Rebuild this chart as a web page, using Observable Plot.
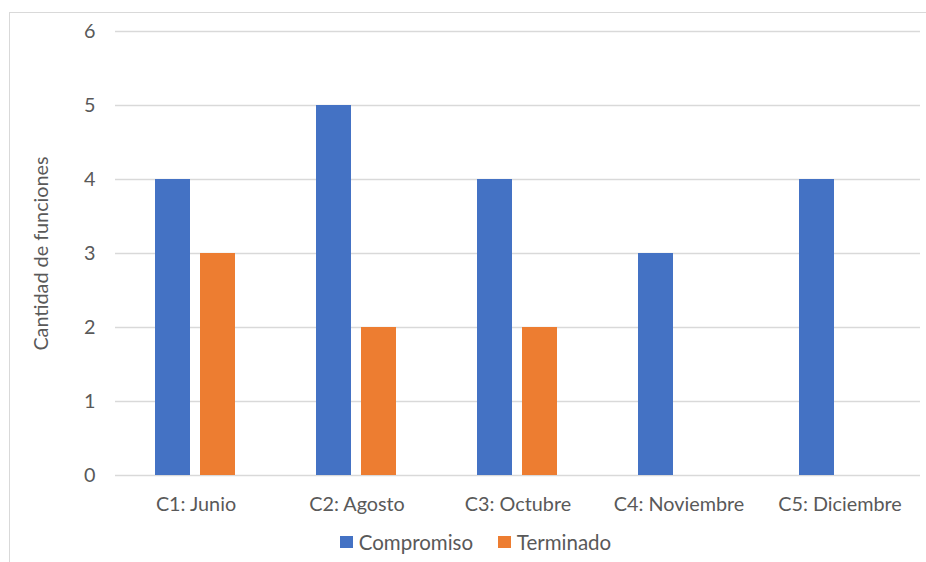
<!DOCTYPE html>
<html>
<head>
<meta charset="utf-8">
<script src="https://cdn.jsdelivr.net/npm/d3@7"></script>
<script src="https://cdn.jsdelivr.net/npm/@observablehq/plot@0.6"></script>
<style>
  html, body { margin: 0; padding: 0; background: #fff; overflow: hidden; }
  #wrap { position: relative; width: 926px; height: 562px; font-family: Lato, "Open Sans", sans-serif; color: #595959; }
  #frame { position: absolute; left: 9px; top: 12px; width: 2000px; height: 2000px; border: 1.5px solid #d9d9d9; box-sizing: border-box; }
  #chart { position: absolute; left: 0; top: 0; }
  #legend { position: absolute; left: 340px; top: 530px; display: flex; align-items: center; font-size: 20.5px; line-height: 24px; }
  .sw { width: 12.7px; height: 12.7px; display: inline-block; margin-right: 6px; }
  .item { display: flex; align-items: center; margin-right: 25px; }
</style>
</head>
<body>
<div id="wrap">
  <div id="frame"></div>
  <div id="chart"></div>
  <div id="legend"></div>
</div>
<script>
const categories = ["C1: Junio", "C2: Agosto", "C3: Octubre", "C4: Noviembre", "C5: Diciembre"];
const series = ["Compromiso", "Terminado"];
const compromiso = [4, 5, 4, 3, 4];
const terminado = [3, 2, 2, 0, 0];
const colors = ["#4472C4", "#ED7D31"];
const yTicks = [0, 1, 2, 3, 4, 5, 6];
const yLabel = "Cantidad de funciones";

const rows = [];
categories.forEach((c, i) => {
  rows.push({cat: c, s: series[0], v: compromiso[i]});
  rows.push({cat: c, s: series[1], v: terminado[i]});
});

const plot = Plot.plot({
  width: 926,
  height: 520,
  marginLeft: 113,
  marginRight: 4,
  marginTop: 31,
  marginBottom: 45,
  style: {fontFamily: "Lato, 'Open Sans', sans-serif", fontSize: "19.8px", color: "#595959", background: "transparent"},
  fx: {domain: categories, padding: 0, label: null, tickSize: 0, tickPadding: 21},
  x: {domain: series, paddingInner: 0.217, paddingOuter: 0.865, axis: null},
  y: {domain: [0, 6], ticks: yTicks, tickFormat: d3.format("d"), tickSize: 0, tickPadding: 20, label: yLabel, labelAnchor: "center", labelArrow: "none", labelOffset: 82},
  color: {domain: series, range: colors},
  marks: [
    Plot.ruleY(yTicks, {stroke: "#d9d9d9", strokeWidth: 1.3}),
    Plot.barY(rows, {fx: "cat", x: "s", y: "v", fill: "s"})
  ]
});
document.getElementById("chart").appendChild(plot);

const legend = document.getElementById("legend");
series.forEach((s, i) => {
  const item = document.createElement("div");
  item.className = "item";
  const sw = document.createElement("span");
  sw.className = "sw";
  sw.style.background = colors[i];
  const t = document.createElement("span");
  t.textContent = s;
  item.appendChild(sw);
  item.appendChild(t);
  legend.appendChild(item);
});
</script>
</body>
</html>
